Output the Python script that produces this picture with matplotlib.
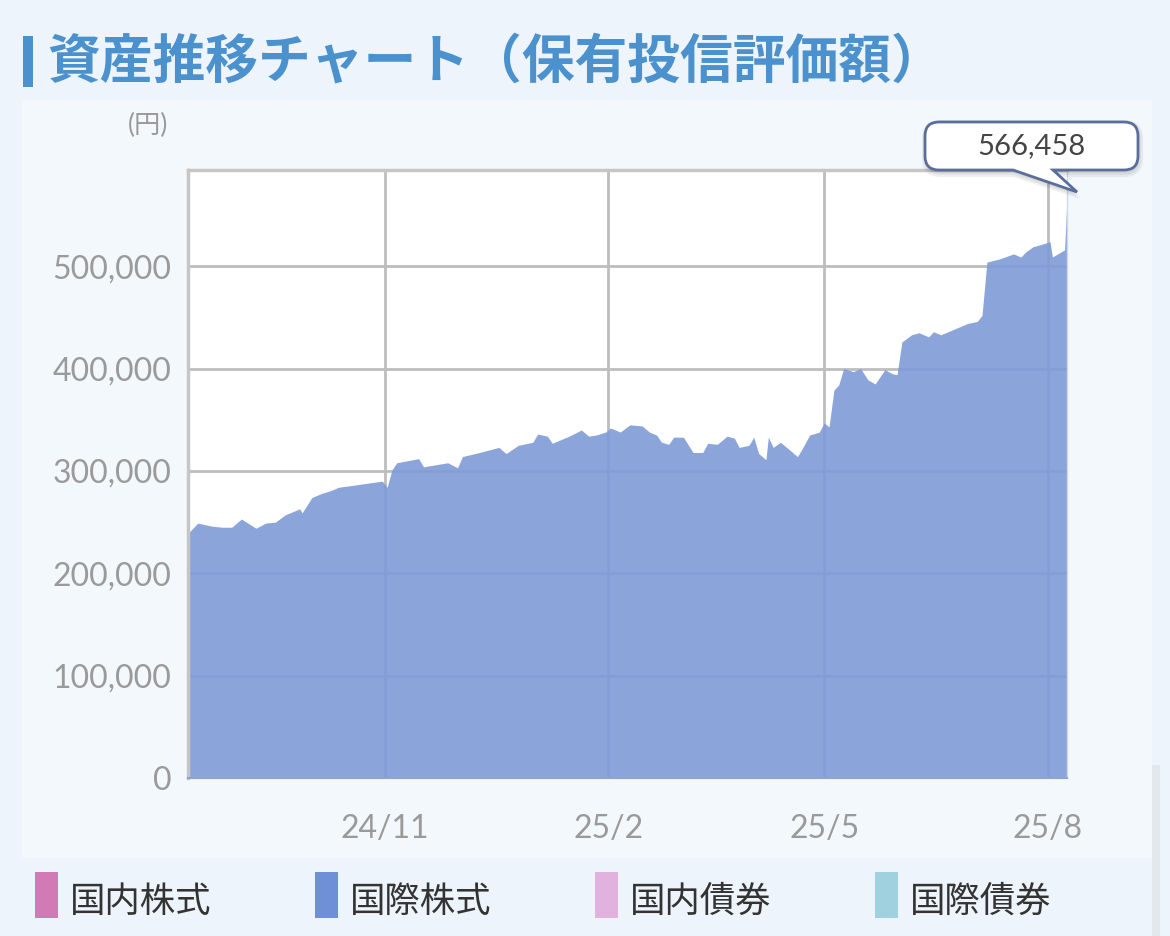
import numpy as np
import pandas as pd
import matplotlib
matplotlib.use('Agg')
import matplotlib.pyplot as plt
from matplotlib.path import Path
from matplotlib.patches import PathPatch, Rectangle
from matplotlib.ticker import FuncFormatter

# 保有投信評価額（円）
dates = ['2024-08-12', '2024-08-16', '2024-08-22', '2024-08-26', '2024-08-30',
         '2024-09-03', '2024-09-09', '2024-09-13', '2024-09-17', '2024-09-21',
         '2024-09-27', '2024-09-28', '2024-10-02', '2024-10-06', '2024-10-10',
         '2024-10-13', '2024-10-19', '2024-10-25', '2024-10-31', '2024-11-02',
         '2024-11-04', '2024-11-06', '2024-11-15', '2024-11-17', '2024-11-27',
         '2024-12-01', '2024-12-03', '2024-12-10', '2024-12-18', '2024-12-21',
         '2024-12-26', '2025-01-01', '2025-01-03', '2025-01-07', '2025-01-09',
         '2025-01-13', '2025-01-16', '2025-01-21', '2025-01-24', '2025-01-27',
         '2025-01-31', '2025-02-02', '2025-02-06', '2025-02-10', '2025-02-15',
         '2025-02-18', '2025-02-21', '2025-02-23', '2025-02-26', '2025-02-28',
         '2025-03-04', '2025-03-08', '2025-03-12', '2025-03-14', '2025-03-18',
         '2025-03-22', '2025-03-25', '2025-03-27', '2025-03-31', '2025-04-02',
         '2025-04-04', '2025-04-07', '2025-04-08', '2025-04-10', '2025-04-13',
         '2025-04-17', '2025-04-20', '2025-04-22', '2025-04-25', '2025-04-29',
         '2025-05-01', '2025-05-03', '2025-05-05', '2025-05-07', '2025-05-09',
         '2025-05-13', '2025-05-16', '2025-05-19', '2025-05-22', '2025-05-26',
         '2025-05-29', '2025-05-31', '2025-06-02', '2025-06-06', '2025-06-09',
         '2025-06-13', '2025-06-15', '2025-06-18', '2025-06-23', '2025-06-29',
         '2025-07-03', '2025-07-05', '2025-07-07', '2025-07-12', '2025-07-18',
         '2025-07-21', '2025-07-23', '2025-07-26', '2025-07-29', '2025-08-02',
         '2025-08-03', '2025-08-08', '2025-08-09']
values = [239000, 249000, 246000, 245000, 245000,
          253000, 244000, 249000, 250000, 257000,
          263000, 259000, 274000, 278000, 281000,
          284000, 286000, 288000, 290000, 284000,
          301000, 308000, 312000, 304000, 308000,
          303000, 314000, 318000, 323000, 317000,
          325000, 328000, 336000, 334000, 327000,
          331000, 334000, 340000, 334000, 335000,
          338000, 342000, 338000, 345000, 344000,
          338000, 335000, 328000, 326000, 333000,
          333000, 318000, 318000, 327000, 326000,
          334000, 332000, 323000, 325000, 333000,
          317000, 311000, 333000, 323000, 328000,
          320000, 314000, 322000, 335000, 338000,
          347000, 343000, 379000, 384000, 400000,
          397000, 400000, 389000, 385000, 399000,
          395000, 394000, 426000, 433000, 435000,
          431000, 436000, 433000, 438000, 444000,
          446000, 452000, 504000, 507000, 512000,
          509000, 514000, 519000, 521000, 524000,
          509000, 516000, 566458]

yticks = [0, 100000, 200000, 300000, 400000, 500000]
xtick_dates = ['2024-11-01', '2025-02-01', '2025-05-01', '2025-08-01']
xtick_labels = ['24/11', '25/2', '25/5', '25/8']

legend_names = ['国内株式', '国際株式', '国内債券', '国際債券']
legend_colors = ['#d17ab6', '#6f8fd6', '#e2b2df', '#9fd2de']

title = '資産推移チャート（保有投信評価額）'

W, H = 1170, 936
fig = plt.figure(figsize=(W / 100, H / 100), dpi=100)
fig.patch.set_facecolor('#edf4fb')

def fx(x):
    return x / W

def fy(y):
    return 1 - y / H

# panel behind the chart
fig.add_artist(Rectangle((fx(22), fy(858)), fx(1130), fy(100) - fy(858),
                         transform=fig.transFigure, fc='#f3f8fc', ec='none', zorder=0))
# scrollbar
fig.add_artist(Rectangle((fx(1152), fy(936)), fx(8), fy(765) - fy(936),
                         transform=fig.transFigure, fc='#e3e8ed', ec='none', zorder=0))

ax = fig.add_axes([fx(188), fy(778), fx(1067 - 188), fy(170) - fy(778)])
ax.set_facecolor('white')

d = pd.to_datetime(dates)
ax.fill_between(d, values, 0, color='#7e9bd8', alpha=0.9, lw=0, zorder=2)

ax.set_xlim(d[0], d[-1])
ax.set_ylim(0, 594000)

ax.set_yticks(yticks)
ax.yaxis.set_major_formatter(FuncFormatter(lambda v, p: f'{int(v):,}'))
ax.set_xticks(pd.to_datetime(xtick_dates))
ax.set_xticklabels(xtick_labels)
ax.tick_params(length=0, labelsize=23, labelcolor='#9a9a9a')
ax.tick_params(axis='y', pad=12)
ax.tick_params(axis='x', pad=26)
for lab in ax.get_xticklabels() + ax.get_yticklabels():
    lab.set_family('Lato')

ax.grid(True, color='#bdbdbd', lw=2, zorder=1)
ax.set_axisbelow(True)
for s in ['left', 'top']:
    ax.spines[s].set_color('#c6c6c6')
    ax.spines[s].set_linewidth(2.5)
ax.spines['right'].set_color('#d0d8e8')
ax.spines['right'].set_linewidth(1)
ax.spines['bottom'].set_color('#8da3d2')
ax.spines['bottom'].set_linewidth(1.5)

# unit label
fig.text(fx(148), fy(125), '(円)', ha='center', va='center', fontsize=19,
         color='#9a9a9a', family=['Lato', 'Noto Sans CJK JP'])

# title with bar
fig.add_artist(Rectangle((fx(23), fy(87)), fx(10), fy(36) - fy(87),
                         transform=fig.transFigure, fc='#4b91cd', ec='none'))
fig.text(fx(47), fy(62), title, ha='left', va='center', fontsize=38,
         fontweight='bold', color='#4b91cd', family=['Noto Sans CJK JP', 'DejaVu Sans'])

# callout for the latest value
def callout_path(l, r, t, b, rad, tail):
    pts = [(l + rad, t), (r - rad, t), (r, t), (r, t + rad), (r, b - rad), (r, b), (r - rad, b)]
    pts += tail
    pts += [(l + rad, b), (l, b), (l, b - rad), (l, t + rad), (l, t), (l + rad, t), (l + rad, t)]
    codes = [Path.MOVETO, Path.LINETO, Path.CURVE3, Path.CURVE3, Path.LINETO, Path.CURVE3, Path.CURVE3]
    codes += [Path.LINETO] * len(tail)
    codes += [Path.LINETO, Path.CURVE3, Path.CURVE3, Path.LINETO, Path.CURVE3, Path.CURVE3, Path.CLOSEPOLY]
    return Path([(fx(x), fy(y)) for x, y in pts], codes)

tail = [(1053, 170), (1077, 192), (1013, 170)]
for i, a in enumerate([0.05, 0.05, 0.06]):
    o = 3 + i * 2
    sh = callout_path(925 - o + 4, 1138 + o - 2, 122 - o + 5, 170 + o, 12 + o,
                      [(1053, 170 + o), (1077 + o / 2, 192 + o), (1013, 170 + o)])
    fig.add_artist(PathPatch(sh, transform=fig.transFigure, fc='#000000', alpha=a,
                             ec='none', zorder=5))
fig.add_artist(PathPatch(callout_path(925, 1138, 122, 170, 14, tail), transform=fig.transFigure,
                         fc='white', ec='#5a6e9c', lw=2, zorder=6))
fig.text(fx(1031), fy(146), f'{values[-1]:,}', ha='center', va='center', fontsize=21,
         color='#444444', family='Lato', zorder=7)

# legend
leg_x = [35, 315, 595, 875]
for x0, name, col in zip(leg_x, legend_names, legend_colors):
    fig.add_artist(Rectangle((fx(x0), fy(918)), fx(23), fy(872) - fy(918),
                             transform=fig.transFigure, fc=col, ec='none'))
    fig.text(fx(x0 + 35), fy(902), name, ha='left', va='center', fontsize=25.5,
             color='#333333', family=['Noto Sans CJK JP', 'DejaVu Sans'])

fig.savefig('out.png', dpi=100, facecolor=fig.get_facecolor())
